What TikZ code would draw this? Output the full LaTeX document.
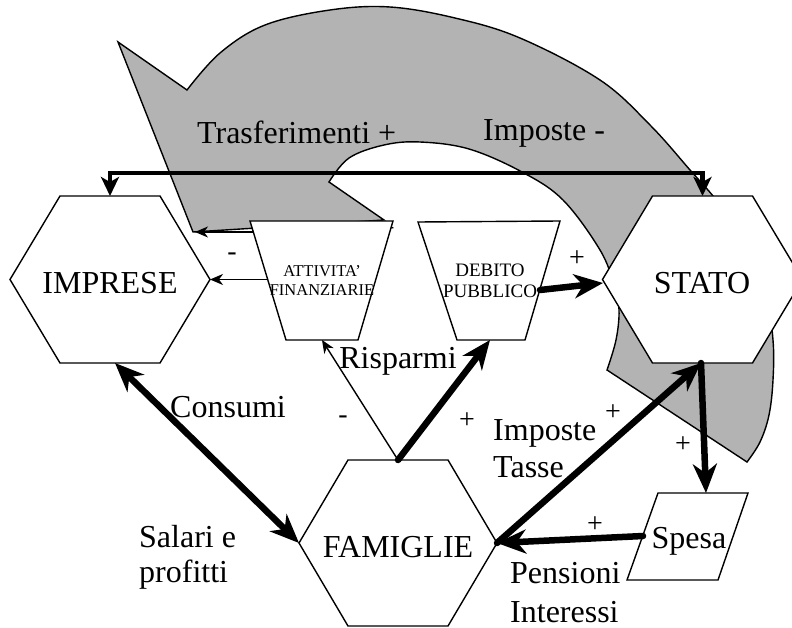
\documentclass[tikz,border=0pt]{standalone}
\usepackage{fontspec}
\setmainfont{Liberation Serif}
\usetikzlibrary{arrows.meta,calc}
\definecolor{flowgray}{RGB}{179,179,179}

\begin{document}
\begin{tikzpicture}[x=1pt,y=-1pt,
  every node/.style={inner sep=0pt},
  big/.style={font=\fontsize{32}{36}\selectfont},
  sign/.style={font=\fontsize{28}{30}\selectfont},
  boxline/.style={draw=black, line width=1.4pt, fill=white, line join=miter},
  bigtip/.style={Stealth[length=29pt,width=24pt,inset=9pt]},
  thickarrow/.style={line width=6.5pt, line cap=round, -{Stealth[length=29pt,width=24pt,inset=9pt]}},
  bothways/.style={line width=6.5pt, {Stealth[length=29pt,width=24pt,inset=9pt]}-{Stealth[length=29pt,width=24pt,inset=9pt]}},
  toparrow/.style={line width=4.5pt, {Stealth[length=19pt,width=18pt,inset=5pt]}-{Stealth[length=19pt,width=18pt,inset=5pt]}},
  thinarrow/.style={line width=1.4pt, -{Stealth[length=13pt,width=11pt,inset=4pt]}}
]
\useasboundingbox (0,0) rectangle (792,628);

% large curved circulation arrow behind everything
\draw[fill=flowgray, line width=1.4pt, line join=miter]
  (193,232) -- (118,42) -- (187,90)
  -- plot[smooth, tension=0.6] coordinates {(187,90) (220,53) (265,25) (330,10) (390,7) (455,18) (520,38) (600,80) (650,125) (690,170) (720,205) (748,250) (766,295) (773,340) (773,380) (769,415) (760,442) (747,462)}
  -- (607,370)
  -- plot[smooth, tension=0.6] coordinates {(607,370) (616,340) (619,310) (614,285) (600,250) (563,200) (522,172) (469,149) (420,142) (384,145) (349,158) (329,182)}
  -- (384,220) -- cycle;

% centres of the main shapes
\coordinate (imp) at (110,279.5);
\coordinate (sta) at (702.5,279.5);
\coordinate (fam) at (398,543);

% connector end points on the shape borders
\coordinate (imp-t) at (110,196);
\coordinate (imp-r) at (210,279.5);
\coordinate (imp-b) at (115,363);
\coordinate (sta-t) at (702.5,196);
\coordinate (sta-l) at (603,283);
\coordinate (sta-b) at (701,363);
\coordinate (fam-t) at (398,460);
\coordinate (fam-l) at (299,543);
\coordinate (fam-r) at (497,543);
\coordinate (att-b) at (322,340);
\coordinate (att-l1) at (253,232);
\coordinate (att-l2) at (268,279.5);
\coordinate (flowtip) at (195,232);
\coordinate (deb-b) at (490,340);
\coordinate (deb-r) at (540,290);
\coordinate (spe-t) at (706,493);
\coordinate (spe-l) at (643,536);

% sign partly covered by the trapezoid
\node[sign] (signA) at (387,230) {+};

% transfers / taxes link between IMPRESE and STATO
\draw[toparrow] (imp-t) -- (110,173) -- (702.5,173) -- (sta-t);
\node[big, anchor=base west] (transf) at (197,144) {Trasferimenti +};
\node[big, anchor=base west] (impmeno) at (483,141) {Imposte -};

% thin arrow along the base of the curved arrow
\draw[thinarrow] (att-l1) -- (flowtip);

% hexagons
\draw[boxline] ($(imp)+(-100,0)$) -- ($(imp)+(-50,-83.5)$) -- ($(imp)+(50,-83.5)$) -- ($(imp)+(100,0)$) -- ($(imp)+(50,83.5)$) -- ($(imp)+(-50,83.5)$) -- cycle;
\draw[boxline] ($(sta)+(-100,0)$) -- ($(sta)+(-50,-83.5)$) -- ($(sta)+(50,-83.5)$) -- ($(sta)+(100,0)$) -- ($(sta)+(50,83.5)$) -- ($(sta)+(-50,83.5)$) -- cycle;
\draw[boxline] ($(fam)+(-99,0)$) -- ($(fam)+(-50,-83)$) -- ($(fam)+(50,-83)$) -- ($(fam)+(99,0)$) -- ($(fam)+(50,83)$) -- ($(fam)+(-50,83)$) -- cycle;
\node[big, anchor=base] (impt) at (110,293) {IMPRESE};
\node[big, anchor=base] (stat) at (702,294) {STATO};
\node[big, anchor=base] (famt) at (398,557) {FAMIGLIE};

% trapezoids
\draw[boxline] (250,221) -- (393,221) -- (358,340) -- (286,340) -- cycle;
\draw[boxline] (418,222) -- (560,221) -- (525,340) -- (457,340) -- cycle;
\node[font=\fontsize{16.5}{19}\selectfont, align=center] (att) at (322,281) {ATTIVITA’\\FINANZIARIE};
\node[font=\fontsize{19}{21}\selectfont, align=center] (deb) at (490,281) {DEBITO\\PUBBLICO};

% parallelogram
\draw[boxline] (658,493) -- (748,493) -- (718,580) -- (627,580) -- cycle;
\node[big, anchor=base] (spe) at (689,548) {Spesa};

% flows
\draw[thinarrow] (att-l2) -- (imp-r);
\draw[thinarrow] (fam-t) -- (att-b);
\draw[thickarrow] (fam-t) -- (deb-b);
\draw[thickarrow] (deb-r) -- (sta-l);
\draw[bothways] (imp-b) -- (fam-l);
\draw[thickarrow] (fam-r) -- (sta-b);
\draw[thickarrow] (sta-b) -- (spe-t);
\draw[thickarrow] (spe-l) -- (fam-r);

% flow labels
\node[big, anchor=base] (risp) at (398,368) {Risparmi};
\node[big, anchor=base] (cons) at (228,417) {Consumi};
\node[big, anchor=base west] (sal1) at (139,547) {Salari e};
\node[big, anchor=base west] (sal2) at (139,582) {profitti};
\node[big, anchor=base west] (tax1) at (493,440) {Imposte};
\node[big, anchor=base west] (tax2) at (493,477) {Tasse};
\node[big, anchor=base west] (pen1) at (510,583) {Pensioni};
\node[big, anchor=base west] (pen2) at (510,622) {Interessi};

% signs
\node[sign] (s1) at (232,257) {-};
\node[sign] (s2) at (577,259) {+};
\node[sign] (s3) at (343,420) {-};
\node[sign] (s4) at (467,421) {+};
\node[sign] (s5) at (613,413) {+};
\node[sign] (s6) at (683,445) {+};
\node[sign] (s7) at (595,525) {+};
\end{tikzpicture}
\end{document}
